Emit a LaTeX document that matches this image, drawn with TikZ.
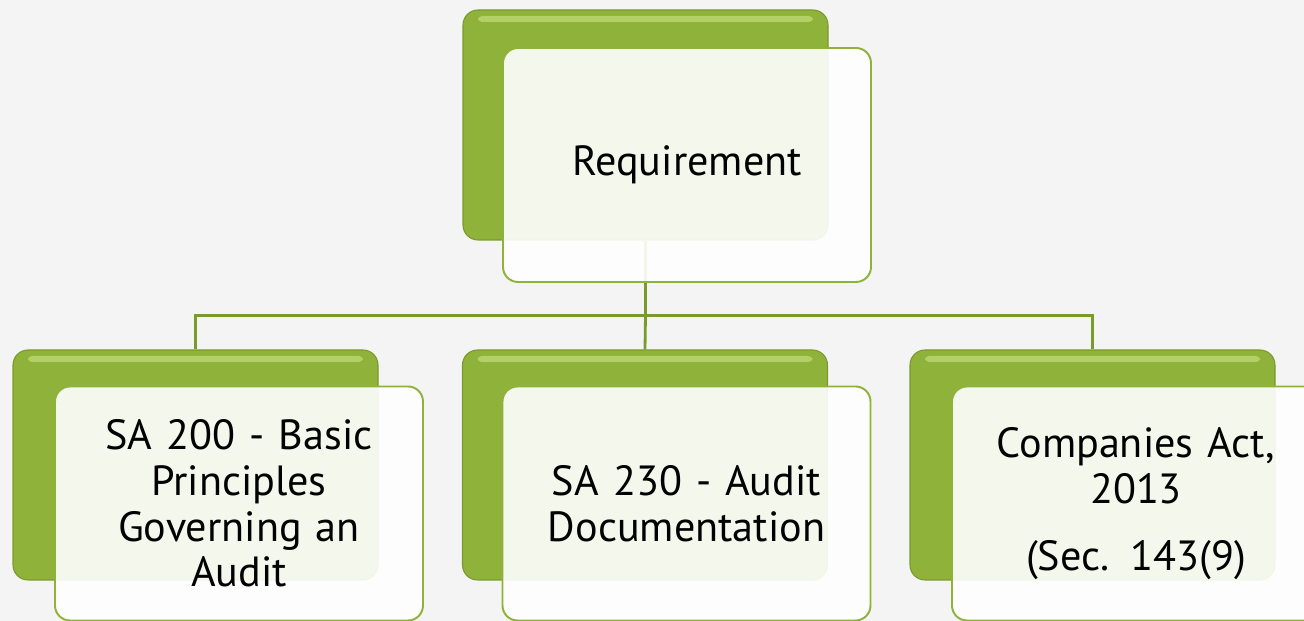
\documentclass[tikz,border=0pt]{standalone}
\usepackage{fontspec}
\setmainfont{PT Sans}
\usetikzlibrary{positioning}
\definecolor{pagebg}{HTML}{F4F4F4}
\definecolor{greenmid}{HTML}{8FB23A}
\definecolor{greenlight}{HTML}{B3D066}
\definecolor{greendark}{HTML}{7A9A2C}
\tikzset{
    greenback/.style={rounded corners=0.3cm, minimum width=7.3cm, minimum height=4.6cm,
        draw=greendark, line width=0.6pt, fill=greenmid,
        path picture={
            \fill[greenlight, rounded corners=0.08cm]
                ([shift={(0.3,-0.12)}]path picture bounding box.north west)
                rectangle ([shift={(-0.3,-0.24)}]path picture bounding box.north east);
        }},
    whitecard/.style={rounded corners=0.3cm, minimum width=7.36cm, minimum height=4.68cm,
        draw=greenmid, line width=1.1pt, fill=white, fill opacity=0.9, text opacity=1,
        align=center, text width=6.6cm, font=\fontsize{24}{26}\selectfont},
    busline/.style={draw=greendark, line width=1.6pt}
}
\begin{document}
\begin{tikzpicture}
    \useasboundingbox (0,0) rectangle (26.08,12.42);
    \fill[pagebg] (0,0) rectangle (26.08,12.42);
    % green back plates
    \node[greenback] (reqback) at (12.91,9.92) {};
    \node[greenback] (saiback) at (3.91,3.12) {};
    \node[greenback] (saiiback) at (12.9,3.12) {};
    \node[greenback] (actback) at (21.85,3.12) {};
    % connectors
    \draw[busline] (reqback.south) -- ++(0,-1.5) coordinate (busmid);
    \draw[busline] (busmid) -| (saiback.north);
    \draw[busline] (busmid) -- (saiiback.north);
    \draw[busline] (busmid) -| (actback.north);
    % white cards
    \node[whitecard] (req) at ([shift={(0.83,-0.8)}]reqback.center) {Requirement};
    \node[whitecard] (sai) at ([shift={(0.87,-0.77)}]saiback.center)
        {SA 200 - Basic\\Principles\\Governing an\\Audit};
    \node[whitecard] (saii) at ([shift={(0.83,-0.77)}]saiiback.center)
        {SA 230 - Audit\\Documentation};
    \node[whitecard] (act) at ([shift={(0.87,-0.77)}]actback.center)
        {Companies Act,\\2013\\[12pt](Sec. 143(9)};
\end{tikzpicture}
\end{document}
